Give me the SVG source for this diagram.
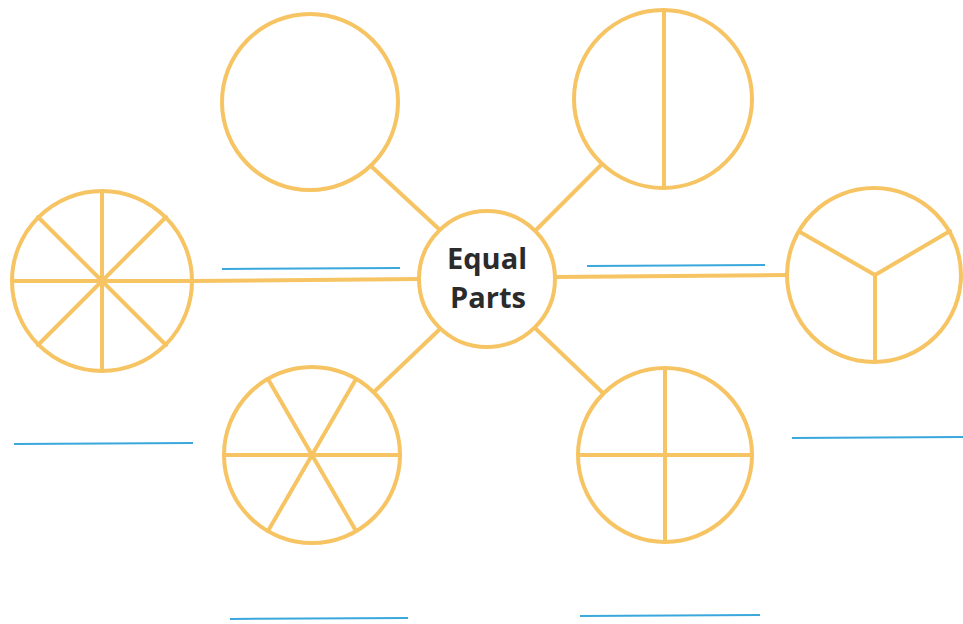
<svg xmlns="http://www.w3.org/2000/svg" width="963" height="624" viewBox="0 0 963 624">
<style>
.o{fill:none;stroke:#F6C463;stroke-width:4;stroke-linecap:round}
.c{fill:#fff;stroke:#F6C463;stroke-width:4}
.b{stroke:#3AA8DC;stroke-width:2}
.t{font-family:"Open Sans","Liberation Sans",sans-serif;font-weight:bold;font-size:29px;fill:#2b2b2b;text-anchor:middle}
</style>
<rect width="963" height="624" fill="#fff"/>
<g id="connectors">
<line class="o" x1="372" y1="167" x2="440" y2="230"/>
<line class="o" x1="536" y1="230" x2="601" y2="165"/>
<line class="o" x1="193" y1="281" x2="420" y2="279"/>
<line class="o" x1="555" y1="277" x2="787" y2="275"/>
<line class="o" x1="375" y1="391" x2="440" y2="329"/>
<line class="o" x1="536" y1="329" x2="603" y2="393"/>
</g>
<g id="blanks">
<line class="b" x1="222" y1="269" x2="400" y2="268"/>
<line class="b" x1="587" y1="266" x2="765" y2="265"/>
<line class="b" x1="14" y1="444" x2="193" y2="443"/>
<line class="b" x1="792" y1="438" x2="963" y2="437"/>
<line class="b" x1="230" y1="619" x2="408" y2="618"/>
<line class="b" x1="580" y1="616" x2="760" y2="615"/>
</g>
<g id="center">
<circle class="c" cx="487" cy="279" r="68"/>
<text class="t" x="487" y="269">Equal</text>
<text class="t" x="488" y="308">Parts</text>
</g>
<g id="whole">
<circle class="c" cx="310" cy="102" r="88"/>
</g>
<g id="halves">
<circle class="c" cx="663" cy="99" r="89"/>
<line class="o" x1="664" y1="10" x2="664" y2="188"/>
</g>
<g id="eighths">
<circle class="c" cx="102" cy="281" r="90"/>
<line class="o" x1="12" y1="281" x2="192" y2="281"/>
<line class="o" x1="102" y1="191" x2="102" y2="371"/>
<line class="o" x1="38" y1="217" x2="166" y2="345"/>
<line class="o" x1="38" y1="345" x2="166" y2="217"/>
</g>
<g id="thirds">
<circle class="c" cx="874" cy="275" r="87"/>
<line class="o" x1="875" y1="275" x2="875" y2="362"/>
<line class="o" x1="875" y1="275" x2="800" y2="232"/>
<line class="o" x1="875" y1="275" x2="950" y2="231"/>
</g>
<g id="sixths">
<circle class="c" cx="312" cy="455" r="88"/>
<line class="o" x1="224" y1="455" x2="400" y2="455"/>
<line class="o" x1="268" y1="379" x2="356" y2="531"/>
<line class="o" x1="356" y1="379" x2="268" y2="531"/>
</g>
<g id="quarters">
<circle class="c" cx="665" cy="455" r="87"/>
<line class="o" x1="578" y1="455" x2="752" y2="455"/>
<line class="o" x1="665" y1="368" x2="665" y2="542"/>
</g>
</svg>
